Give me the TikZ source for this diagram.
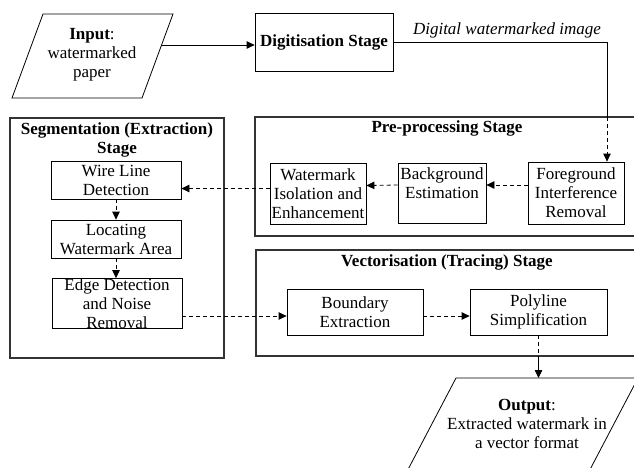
\documentclass[tikz,border=0pt]{standalone}
\usepackage{fontspec}
\setmainfont{Liberation Serif}
\usetikzlibrary{arrows.meta}
\newcommand\figfont{\fontsize{17}{19}\selectfont}
\tikzset{
    box/.style={draw, line width=0.8pt, align=center, inner sep=0pt, font=\figfont},
    stagebox/.style={draw=black!80, line width=1.1pt},
    title/.style={align=center, font=\figfont\bfseries},
    tip/.style={-{Triangle[length=8pt,width=7.5pt]}},
    dashline/.style={dash pattern=on 4pt off 3pt},
}
\begin{document}
\begin{tikzpicture}[x=1pt, y=-1pt, line width=0.8pt]
    \useasboundingbox (0,0) rectangle (634,467);
    \clip (0,0) rectangle (634,467);
    % input and digitisation
    \draw (43,14)--(173,14)--(142,98)--(12,98)--cycle;
    \node[align=center, font=\figfont] (in) at (92,55) {\textbf{Input}:\\watermarked\\paper};
    \coordinate (inR) at (161,45);
    \node[box, minimum width=138pt, minimum height=58pt, font=\figfont\bfseries] (dig) at (324,42) {Digitisation Stage};
    \draw[tip] (inR) -- (inR -| dig.west);
    \node[font=\figfont\itshape] (dwi) at (507,30) {Digital watermarked image};
    % the three stages (they run off the right edge)
    \draw[stagebox] (255,117) rectangle (660,236);
    \draw[stagebox] (10,118) rectangle (224,358);
    \draw[stagebox] (256,250) rectangle (660,356);
    \node[title] (pp) at (447,128) {Pre-processing Stage};
    \node[title] (seg) at (117,139.5) {Segmentation (Extraction)\\Stage};
    \node[title] (vec) at (447,262) {Vectorisation (Tracing) Stage};
    % pre-processing
    \node[box, minimum width=96pt, minimum height=62pt] (fg) at (576,193) {Foreground\\Interference\\Removal};
    \node[box, minimum width=88pt, minimum height=60pt] (bg) at (442,193) {Background\\Estimation\\~};
    \node[box, minimum width=96pt, minimum height=61pt] (wm) at (318,193.5) {Watermark\\Isolation and\\Enhancement};
    \coordinate (ppTop) at (607,117);
    \draw (dig.east) -| (ppTop);
    \draw[dashline, tip] (ppTop) -- (ppTop |- fg.north);
    \draw[dashline, tip] ([yshift=8pt]fg.west) -- ([yshift=8pt]bg.east);
    \draw[dashline, tip] ([yshift=8pt]bg.west) -- ([yshift=8pt]wm.east);
    % segmentation
    \node[box, minimum width=130pt, minimum height=38pt] (wire) at (116,180) {Wire Line\\Detection};
    \node[box, minimum width=130pt, minimum height=38pt] (loc) at (116,239) {Locating\\Watermark Area};
    \node[box, minimum width=130pt, minimum height=49pt] (edge) at (117,303.5) {Edge Detection\\and Noise\\Removal};
    \draw[dashline, tip] ([yshift=5pt]wm.west) -- ([yshift=5pt]wm.west -| wire.east);
    \draw[dashline, tip] (wire) -- (loc);
    \draw[dashline, tip] (loc.south) -- (loc.south |- edge.north);
    % vectorisation
    \node[box, minimum width=136pt, minimum height=46pt] (bnd) at (355,312) {Boundary\\Extraction};
    \node[box, minimum width=137pt, minimum height=46pt] (poly) at (538.5,312) {Polyline\\Simplification};
    \draw[dashline, tip] ([yshift=-4pt]bnd.west -| edge.east) -- ([yshift=-4pt]bnd.west);
    \draw[dashline, tip] ([yshift=-4pt]bnd.east) -- ([yshift=-4pt]poly.west);
    % output
    \draw (456,378)--(638,378)--(574,500)--(392,500)--cycle;
    \node[align=center, font=\figfont] (out) at (527,424) {\textbf{Output}:\\Extracted watermark in\\a vector format};
    \coordinate (vecB) at (poly.south |- 0,356);
    \coordinate (outTop) at (poly.south |- 0,378);
    \draw[dashline] (poly.south) -- (vecB);
    \draw[tip] (vecB) -- (outTop);
\end{tikzpicture}
\end{document}
